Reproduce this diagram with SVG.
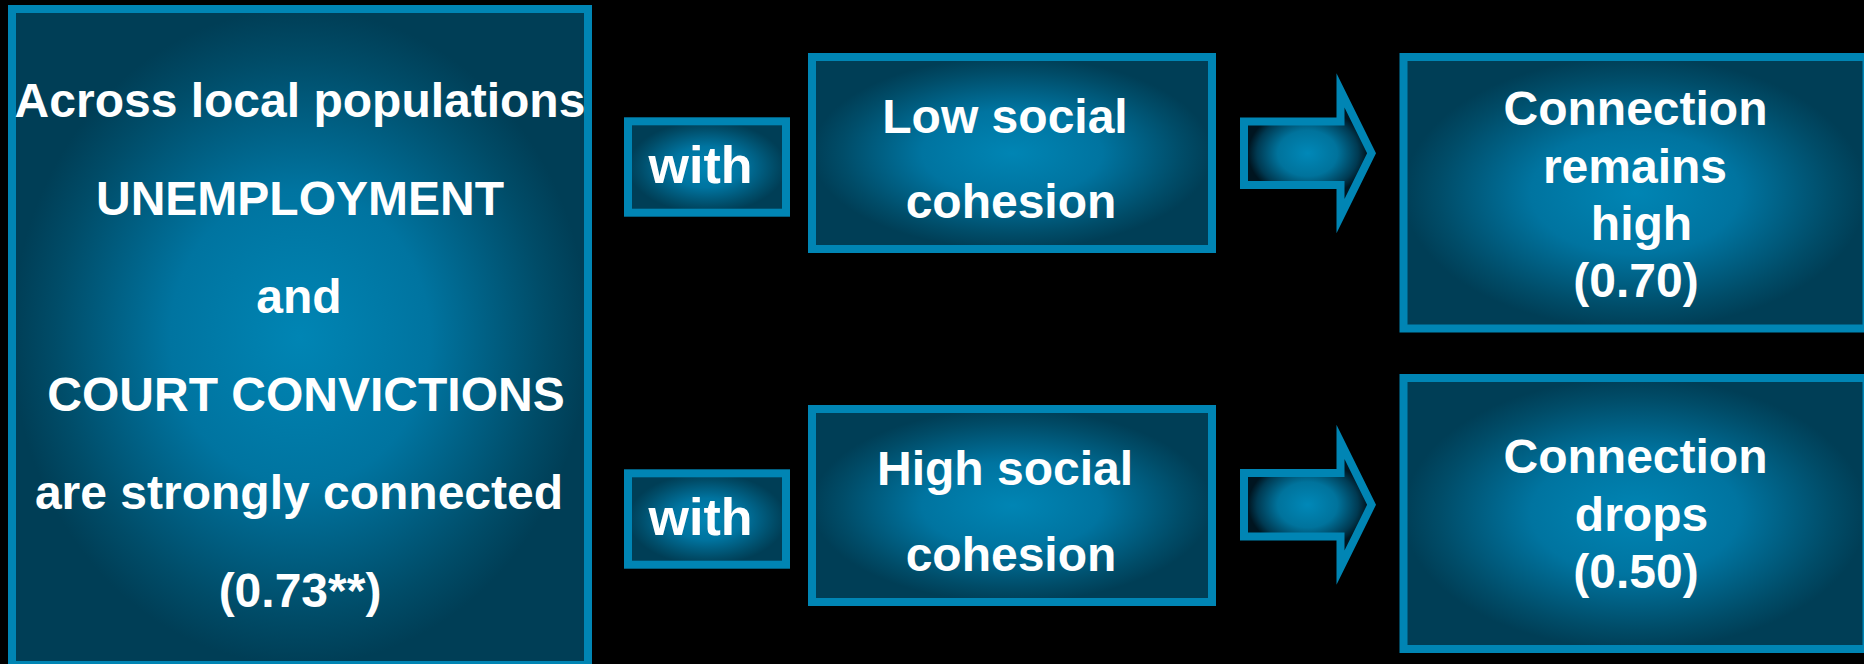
<svg xmlns="http://www.w3.org/2000/svg" width="1864" height="664" viewBox="0 0 1864 664">
  <defs>
    <radialGradient id="boxGrad" cx="0.5" cy="0.5" r="0.5">
      <stop offset="0" stop-color="#0085B4"/>
      <stop offset="0.45" stop-color="#0074A0"/>
      <stop offset="0.85" stop-color="#004C68"/>
      <stop offset="1" stop-color="#003E56"/>
    </radialGradient>
    <radialGradient id="arrowGrad" cx="0.5" cy="0.5" r="0.5">
      <stop offset="0" stop-color="#0088B8"/>
      <stop offset="0.5" stop-color="#00739C"/>
      <stop offset="0.85" stop-color="#003A52"/>
      <stop offset="1" stop-color="#001520"/>
    </radialGradient>
    <style>
      .box { fill: url(#boxGrad); stroke: #0085B4; stroke-width: 8; }
      .arrowOuter { fill: #0085B4; }
      .arrowInner { fill: url(#arrowGrad); }
      .t { font-family: "Liberation Sans", Arial, sans-serif; font-weight: bold; fill: #FFFFFF; text-anchor: middle; }
      .t48 { font-size: 48px; }
      .t52 { font-size: 52px; }
    </style>
  </defs>
  <rect x="0" y="0" width="1864" height="664" fill="#000000"/>

  <g id="node-main">
    <rect class="box" x="12" y="9" width="576" height="656"/>
    <text class="t t48" x="300" y="117">Across local populations</text>
    <text class="t t48" x="300" y="215">UNEMPLOYMENT</text>
    <text class="t t48" x="299" y="313">and</text>
    <text class="t t48" x="306" y="411">COURT CONVICTIONS</text>
    <text class="t t48" x="299" y="509">are strongly connected</text>
    <text class="t t48" x="300" y="607">(0.73**)</text>
  </g>

  <g id="node-with-top">
    <rect class="box" x="628" y="121.3" width="158" height="91.4"/>
    <text class="t t52" x="700.5" y="182.7">with</text>
  </g>

  <g id="node-with-bottom">
    <rect class="box" x="628" y="473.3" width="158" height="91.4"/>
    <text class="t t52" x="700.5" y="535">with</text>
  </g>

  <g id="node-low">
    <rect class="box" x="812" y="57" width="400" height="192"/>
    <text class="t t48" x="1005" y="133">Low social</text>
    <text class="t t48" x="1011" y="218">cohesion</text>
  </g>

  <g id="node-high">
    <rect class="box" x="812" y="409" width="400" height="193"/>
    <text class="t t48" x="1005" y="485">High social</text>
    <text class="t t48" x="1011" y="571">cohesion</text>
  </g>

  <g id="node-result-top">
    <rect class="box" x="1403.5" y="57" width="463" height="271.5"/>
    <text class="t t48" x="1635.5" y="125">Connection</text>
    <text class="t t48" x="1635" y="182.5">remains</text>
    <text class="t t48" x="1641.5" y="240">high</text>
    <text class="t t48" x="1636" y="297">(0.70)</text>
  </g>

  <g id="node-result-bottom">
    <rect class="box" x="1403.5" y="378" width="463" height="271"/>
    <text class="t t48" x="1635.5" y="473">Connection</text>
    <text class="t t48" x="1641.5" y="531">drops</text>
    <text class="t t48" x="1636" y="588">(0.50)</text>
  </g>

  <g id="connectors">
    <g id="arrow-top">
      <polygon class="arrowOuter" points="1240,117.5 1336.5,117.5 1336.5,73.3 1376,153.3 1336.5,233.3 1336.5,189 1240,189"/>
      <polygon class="arrowInner" points="1248,125.5 1344.5,125.5 1344.5,107.6 1367.1,153.3 1344.5,199 1344.5,181 1248,181"/>
    </g>
    <g id="arrow-bottom" transform="translate(0,351.5)">
      <polygon class="arrowOuter" points="1240,117.5 1336.5,117.5 1336.5,73.3 1376,153.3 1336.5,233.3 1336.5,189 1240,189"/>
      <polygon class="arrowInner" points="1248,125.5 1344.5,125.5 1344.5,107.6 1367.1,153.3 1344.5,199 1344.5,181 1248,181"/>
    </g>
  </g>
</svg>
